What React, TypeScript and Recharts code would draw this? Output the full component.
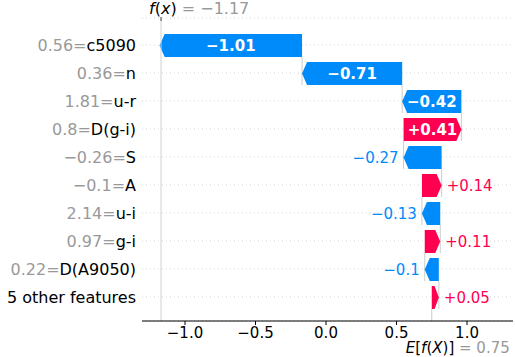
import React from 'react';
import { BarChart, Bar, XAxis, YAxis, CartesianGrid, ReferenceLine } from 'recharts';

// SHAP waterfall values, top row first
const features = ['c5090', 'n', 'u-r', 'D(g-i)', 'S', 'A', 'u-i', 'g-i', 'D(A9050)', '5 other features'];
const featureValues = ['0.56', '0.36', '1.81', '0.8', '\u22120.26', '\u22120.1', '2.14', '0.97', '0.22', ''];
const shapValues = [-1.01, -0.71, -0.42, 0.41, -0.27, 0.14, -0.13, 0.11, -0.1, 0.05];
const baseValue = 0.75;
const fxValue = -1.17;
const xTicks = [-1.0, -0.5, 0.0, 0.5, 1.0];

const BLUE = '#008bfb';
const RED = '#ff0051';
const GRAY = '#999999';
const FONT = '"DejaVu Sans", sans-serif';

// layout
const W = 515;
const H = 357;
const TOP = 18;
const X_AXIS_H = 36;
const PAD_TOP = 13;
const PAD_BOTTOM = 10;
const BAR = 23;
const BAND = (H - TOP - X_AXIS_H - PAD_TOP - PAD_BOTTOM) / features.length;

const fmt = (v: number) => (v < 0 ? '\u2212' : '+') + Math.abs(v).toString();

// walk up from the base value (bottom row) to f(x)
const starts: number[] = new Array(features.length);
const ends: number[] = new Array(features.length);
let pos = baseValue;
for (let i = features.length - 1; i >= 0; i--) {
  starts[i] = pos;
  ends[i] = pos + shapValues[i];
  pos = ends[i];
}

const data = features.map((f, i) => ({
  feature: f,
  value: shapValues[i],
  range: [Math.min(starts[i], ends[i]), Math.max(starts[i], ends[i])],
}));

const ArrowBar = (props: any) => {
  const { x, y, width, height, payload, index } = props;
  const v = payload.value;
  const color = v < 0 ? BLUE : RED;
  const head = Math.min(5, width * 0.6);
  const mid = y + height / 2;
  const pts =
    v < 0
      ? [[x + head, y], [x + width, y], [x + width, y + height], [x + head, y + height], [x, mid]]
      : [[x, y], [x + width - head, y], [x + width, mid], [x + width - head, y + height], [x, y + height]];
  const endX = v < 0 ? x : x + width;
  const startX = v < 0 ? x + width : x;
  const inside = width > 50;
  return (
    <g>
      {index > 0 && (
        <line x1={endX} x2={endX} y1={y + height - BAND} y2={y + height} stroke="#cccccc" strokeWidth={1} />
      )}
      {index === features.length - 1 && (
        <line
          x1={startX}
          x2={startX}
          y1={y + height}
          y2={y + height + (BAND - BAR) / 2 + PAD_BOTTOM}
          stroke="#cccccc"
          strokeWidth={1}
        />
      )}
      <polygon points={pts.map((p) => p.join(',')).join(' ')} fill={color} />
      {inside ? (
        <text x={x + width / 2} y={mid + 5} textAnchor="middle" fill="#fff" fontSize={15} fontWeight="bold" fontFamily={FONT}>
          {fmt(v)}
        </text>
      ) : v < 0 ? (
        <text x={x - 5} y={mid + 5} textAnchor="end" fill={color} fontSize={15} fontFamily={FONT}>
          {fmt(v)}
        </text>
      ) : (
        <text x={x + width + 5} y={mid + 5} textAnchor="start" fill={color} fontSize={15} fontFamily={FONT}>
          {fmt(v)}
        </text>
      )}
    </g>
  );
};

const FeatureTick = (props: any) => {
  const { x, y, payload, index } = props;
  const val = featureValues[index];
  return (
    <text x={x} y={y} dy={6} textAnchor="end" fontSize={16} fontFamily={FONT}>
      {val !== '' && <tspan fill={GRAY}>{val}=</tspan>}
      <tspan fill="#000">{payload.value}</tspan>
    </text>
  );
};

const FxLabel = (props: any) => {
  const { viewBox } = props;
  const x = viewBox.x;
  const y = viewBox.y;
  return (
    <g>
      <line x1={x} x2={x} y1={y - 1} y2={y + 3} stroke="#444" strokeWidth={1} />
      <text x={x - 12} y={13.5} fontSize={16} fontFamily={FONT}>
        <tspan fill="#000" fontStyle="italic">f</tspan>
        <tspan fill="#000">(</tspan>
        <tspan fill="#000" fontStyle="italic">x</tspan>
        <tspan fill="#000">)</tspan>
        <tspan fill={GRAY}> = {'\u2212'}{Math.abs(fxValue).toFixed(2)}</tspan>
      </text>
    </g>
  );
};

const BaseLabel = (props: any) => {
  const { viewBox } = props;
  const x = viewBox.x;
  return (
    <text x={x - 26} y={352.5} fontSize={15} fontFamily={FONT}>
      <tspan fill="#000" fontStyle="italic">E</tspan>
      <tspan fill="#000">[</tspan>
      <tspan fill="#000" fontStyle="italic">f</tspan>
      <tspan fill="#000">(</tspan>
      <tspan fill="#000" fontStyle="italic">X</tspan>
      <tspan fill="#000">)]</tspan>
      <tspan fill={GRAY}> = {baseValue.toFixed(2)}</tspan>
    </text>
  );
};

export default function App() {
  return (
    <div style={{ position: 'absolute', left: 0, top: 0, width: W, height: H, background: '#fff' }}>
      <BarChart
        width={W}
        height={H}
        data={data}
        layout="vertical"
        margin={{ top: TOP, right: 2, bottom: 0, left: 0 }}
        barSize={BAR}
      >
        <CartesianGrid horizontal vertical={false} stroke="#d4d4d4" strokeDasharray="1 3" />
        <XAxis
          type="number"
          domain={[-1.305, 1.326]}
          ticks={xTicks}
          allowDataOverflow
          height={X_AXIS_H}
          tickFormatter={(v: number) => v.toFixed(1).replace('-', '\u2212')}
          tick={{ fill: '#000', fontSize: 15, fontFamily: FONT }}
          tickSize={4}
          tickLine={{ stroke: '#000' }}
          axisLine={{ stroke: '#000' }}
        />
        <YAxis
          type="category"
          dataKey="feature"
          width={142}
          padding={{ top: PAD_TOP, bottom: PAD_BOTTOM }}
          tickLine={false}
          axisLine={false}
          tickSize={0}
          tickMargin={6}
          interval={0}
          tick={<FeatureTick />}
        />
        <ReferenceLine x={fxValue} stroke="#d0d0d0" strokeWidth={1} label={<FxLabel />} />
        <ReferenceLine x={baseValue} stroke="none" label={<BaseLabel />} />
        <Bar dataKey="range" isAnimationActive={false} shape={<ArrowBar />} />
      </BarChart>
    </div>
  );
}
